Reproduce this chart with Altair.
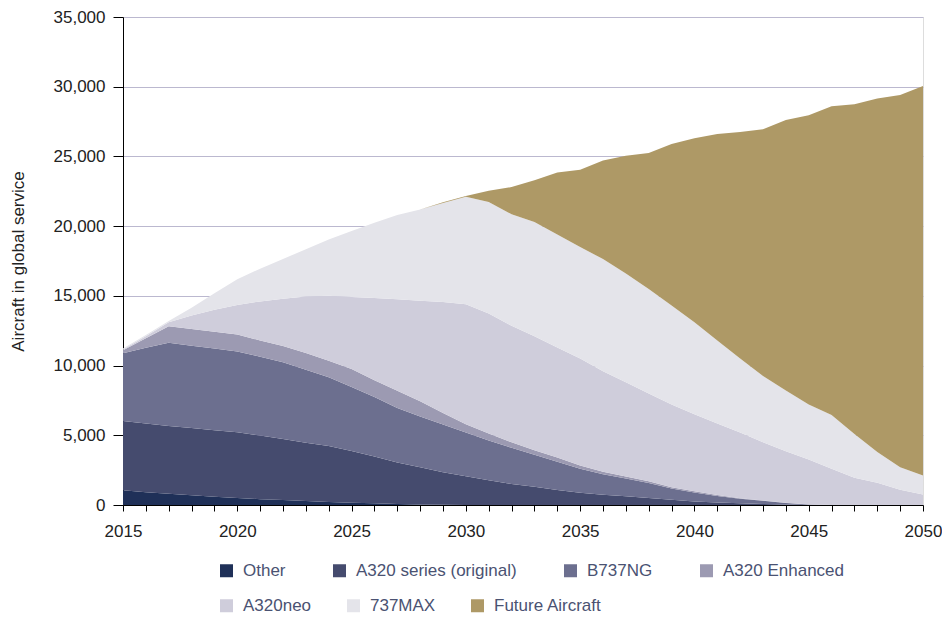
import altair as alt
import pandas as pd

years = list(range(2015, 2051))

series_names = ["Other", "A320 series (original)", "B737NG", "A320 Enhanced",
                "A320neo", "737MAX", "Future Aircraft"]
series_colors = ["#1f3058", "#454b6e", "#6c6f8f", "#9c9ab2",
                 "#cfcddb", "#e4e4ea", "#ae9966"]

other = [1050, 920, 800, 700, 600, 500, 420, 350, 280, 220, 170, 120, 80, 40, 15, 0,
         0, 0, 0, 0, 0, 0, 0, 0, 0, 0, 0, 0, 0, 0, 0, 0, 0, 0, 0, 0]
a320_original = [4970, 4930, 4870, 4820, 4770, 4720, 4560, 4380, 4190, 4010, 3710, 3360,
                 2970, 2660, 2340, 2070, 1780, 1500, 1300, 1080, 880, 730, 620, 500,
                 380, 260, 180, 120, 70, 30, 0, 0, 0, 0, 0, 0]
b737ng = [4870, 5420, 5970, 5900, 5850, 5790, 5660, 5500, 5230, 4940, 4590, 4270,
          3900, 3650, 3420, 3130, 2850, 2600, 2300, 2020, 1720, 1470, 1280, 1080,
          800, 640, 470, 330, 230, 120, 30, 0, 0, 0, 0, 0]
a320_enhanced = [210, 690, 1180, 1200, 1210, 1220, 1160, 1170, 1200, 1180, 1290, 1200,
                 1250, 1100, 830, 600, 500, 400, 330, 300, 230, 190, 150, 120,
                 100, 80, 60, 40, 25, 15, 5, 0, 0, 0, 0, 0]
a320neo = [60, 140, 280, 980, 1570, 2120, 2800, 3400, 4050, 4650, 5160, 5900,
           6550, 7200, 7950, 8600, 8600, 8350, 8170, 7900, 7670, 7210, 6750, 6300,
           5920, 5520, 5140, 4710, 4180, 3690, 3220, 2600, 1950, 1600, 1100, 750]
b737max = [60, 100, 100, 550, 1180, 1850, 2350, 2840, 3400, 4050, 4730, 5400,
           6050, 6550, 7100, 7710, 8000, 8000, 8200, 8100, 8000, 8040, 7800, 7500,
           7100, 6600, 5950, 5300, 4750, 4350, 3950, 3850, 3150, 2200, 1600, 1370]
future_aircraft = [0, 0, 0, 0, 0, 0, 0, 0, 0, 0, 0, 0,
                   0, 0, 50, 60, 800, 1950, 3000, 4450, 5550, 7060, 8450, 9750,
                   11600, 13200, 14800, 16250, 17700, 19400, 20750, 22150, 23650, 25350, 26700, 27940]

y_ticks = [0, 5000, 10000, 15000, 20000, 25000, 30000, 35000]

all_series = [other, a320_original, b737ng, a320_enhanced, a320neo, b737max, future_aircraft]
rows = []
for idx, (name, vals) in enumerate(zip(series_names, all_series)):
    for yr, v in zip(years, vals):
        rows.append({"year": yr, "series": name, "value": v, "order": idx})
df = pd.DataFrame(rows)

FONT = "Liberation Sans"

x_enc = alt.X("year:Q",
              scale=alt.Scale(domain=[2015, 2050], nice=False, zero=False),
              axis=alt.Axis(values=years, format="d",
                            labelExpr="datum.value % 5 === 0 ? datum.label : ''",
                            title=None, grid=False, tickSize=6, labelPadding=12,
                            domainColor="#000000", tickColor="#000000",
                            labelColor="#222222", labelFontSize=17, labelFont=FONT,
                            labelFlush=False, labelOverlap=False))
y_enc = alt.Y("y1:Q",
              scale=alt.Scale(domain=[0, 35000], nice=False),
              axis=alt.Axis(values=y_ticks, format=",d", title="Aircraft in global service",
                            titleFont=FONT, titleFontSize=17, titleFontWeight="normal",
                            titleColor="#222222", titleX=-105, titleY=244,
                            titleAngle=-90, titleBaseline="middle", titleAlign="center",
                            grid=True, gridColor="#bbb8cf", gridWidth=1,
                            tickSize=10, labelPadding=8, domainColor="#000000",
                            tickColor="#000000", labelColor="#222222",
                            labelFontSize=17, labelFont=FONT))


def legend(x, y, pad):
    return alt.Legend(title=None, orient="none", legendX=x, legendY=y,
                      direction="horizontal", columnPadding=pad,
                      symbolType="square", symbolSize=169,
                      symbolStrokeWidth=0, labelFont=FONT, labelFontSize=17,
                      labelColor="#4a5272", labelOffset=8, labelLimit=300)


base = alt.Chart(df).transform_stack(
    stack="value", groupby=["year"], as_=["y0", "y1"],
    sort=[alt.SortField("order", order="ascending")],
)

layer_a = base.transform_filter("datum.order < 4").mark_area(interpolate="linear").encode(
    x=x_enc, y=y_enc, y2="y0:Q",
    color=alt.Color("series:N",
                    scale=alt.Scale(domain=series_names[:4], range=series_colors[:4]),
                    legend=legend(95, 545, 45)),
)
layer_b = base.transform_filter("datum.order >= 4").mark_area(interpolate="linear").encode(
    x=x_enc, y=y_enc, y2="y0:Q",
    color=alt.Color("series:N",
                    scale=alt.Scale(domain=series_names[4:], range=series_colors[4:]),
                    legend=legend(95, 580, 33)),
)

chart = alt.layer(layer_a, layer_b).resolve_scale(color="independent").properties(
    width=800, height=488,
    autosize=alt.AutoSizeParams(type="none"),
    padding={"left": 115, "top": 9, "right": 19, "bottom": 113},
).configure_view(stroke=None).configure(background="white")

chart.save("out.html", embed_options={"renderer": "svg", "actions": False})
